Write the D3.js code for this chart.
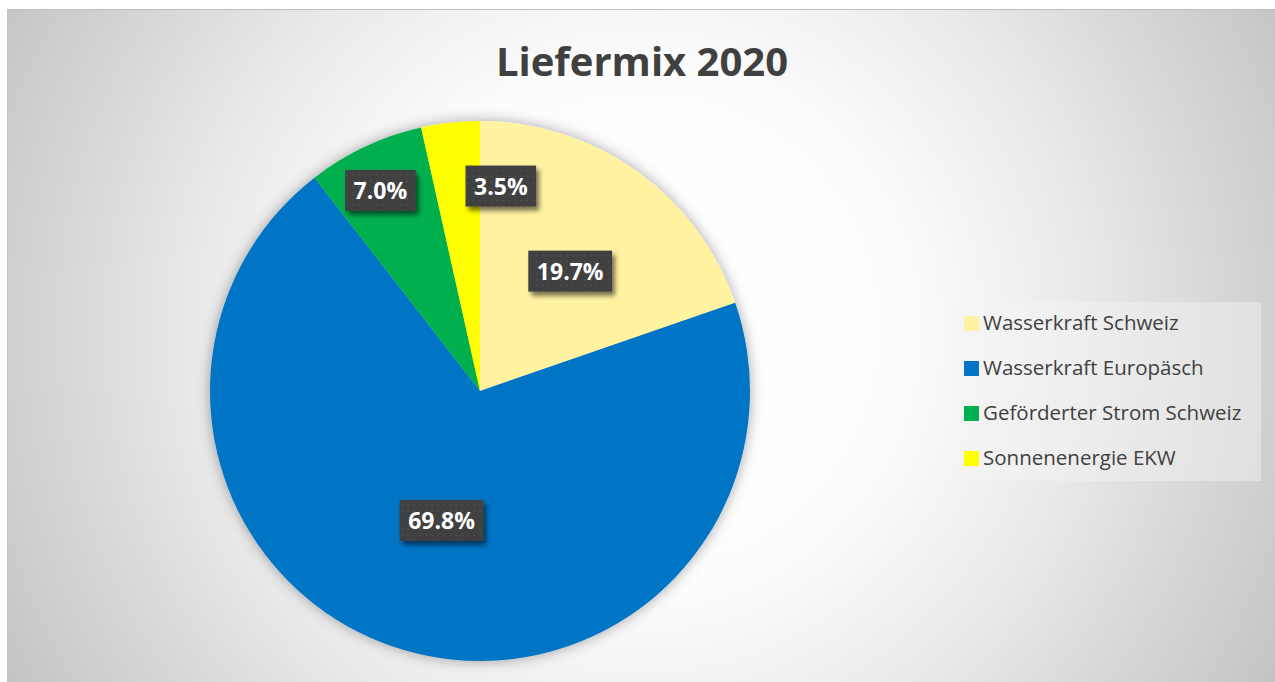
<!DOCTYPE html>
<html>
<head>
<meta charset="utf-8">
<script src="https://cdn.jsdelivr.net/npm/d3@7"></script>
<style>
  html, body { margin: 0; padding: 0; background: #ffffff; }
  svg { display: block; }
</style>
</head>
<body>
<svg id="chart" width="1275" height="682"></svg>
<script>
// ---- data ----
const title = "Liefermix 2020";
const categories = ["Wasserkraft Schweiz", "Wasserkraft Europäsch", "Geförderter Strom Schweiz", "Sonnenenergie EKW"];
const values = [19.7, 69.8, 7.0, 3.5];
const valueLabels = ["19.7%", "69.8%", "7.0%", "3.5%"];
const colors = ["#FFF2A1", "#0474C6", "#00B050", "#FFFF00"];

// ---- layout (styling, not data) ----
const W = 1275, H = 682;
const frame = { x: 7, y: 9, w: W - 7, h: H - 9 };
const cx = 480, cy = 391, R = 270;
// label placement: radius from centre, and angular nudge (degrees) like Excel's best-fit
const labelPlace = [ { r: 150, da: 1.5 }, { r: 135, da: 0 }, { r: 224, da: -1.2 }, { r: 206, da: 12.1 } ];

const svg = d3.select("#chart");
const defs = svg.append("defs");

const bg = defs.append("radialGradient").attr("id", "bg")
  .attr("gradientUnits", "userSpaceOnUse")
  .attr("cx", 641).attr("cy", 330).attr("r", 730);
[[0, "#ffffff"], [0.36, "#fcfcfc"], [0.6, "#eaeaea"], [0.8, "#d6d6d6"], [1, "#c3c3c3"]]
  .forEach(([o, c]) => bg.append("stop").attr("offset", o).attr("stop-color", c));

const pieShadow = defs.append("filter").attr("id", "pieShadow")
  .attr("x", "-20%").attr("y", "-20%").attr("width", "140%").attr("height", "140%");
pieShadow.append("feGaussianBlur").attr("in", "SourceAlpha").attr("stdDeviation", 7).attr("result", "b");
pieShadow.append("feOffset").attr("in", "b").attr("dx", 0).attr("dy", 0).attr("result", "o");
pieShadow.append("feComponentTransfer").attr("in", "o").attr("result", "s")
  .append("feFuncA").attr("type", "linear").attr("slope", 0.35);
const pm = pieShadow.append("feMerge");
pm.append("feMergeNode").attr("in", "s");
pm.append("feMergeNode").attr("in", "SourceGraphic");

const boxShadow = defs.append("filter").attr("id", "boxShadow")
  .attr("x", "-20%").attr("y", "-30%").attr("width", "150%").attr("height", "170%");
boxShadow.append("feGaussianBlur").attr("in", "SourceAlpha").attr("stdDeviation", 2.5).attr("result", "b");
boxShadow.append("feOffset").attr("in", "b").attr("dx", 3).attr("dy", 4).attr("result", "o");
boxShadow.append("feComponentTransfer").attr("in", "o").attr("result", "s")
  .append("feFuncA").attr("type", "linear").attr("slope", 0.55);
const bm = boxShadow.append("feMerge");
bm.append("feMergeNode").attr("in", "s");
bm.append("feMergeNode").attr("in", "SourceGraphic");

const dots = defs.append("pattern").attr("id", "dots")
  .attr("patternUnits", "userSpaceOnUse").attr("width", 6).attr("height", 6);
dots.append("rect").attr("width", 6).attr("height", 6).attr("fill", "#3f3f3f");
dots.append("rect").attr("x", 2).attr("y", 2).attr("width", 1.2).attr("height", 1.2).attr("fill", "#5a5a5a");

// background frame
svg.append("rect").attr("x", frame.x).attr("y", frame.y).attr("width", frame.w).attr("height", frame.h)
  .attr("fill", "url(#bg)");
svg.append("line").attr("x1", frame.x).attr("x2", W).attr("y1", frame.y + 0.5).attr("y2", frame.y + 0.5)
  .attr("stroke", "#bdbdbd").attr("stroke-width", 1);
svg.append("line").attr("x1", frame.x + 0.5).attr("x2", frame.x + 0.5).attr("y1", frame.y).attr("y2", H)
  .attr("stroke", "#c4c4c4").attr("stroke-width", 1);

// title
svg.append("text").attr("x", 642).attr("y", 76).attr("text-anchor", "middle")
  .attr("font-family", "'Open Sans', sans-serif").attr("font-weight", 700).attr("font-size", 40)
  .attr("fill", "#404040").text(title);

// pie
const pie = d3.pie().sort(null).value(d => d)(values);
const arc = d3.arc().innerRadius(0).outerRadius(R);
const g = svg.append("g").attr("transform", `translate(${cx},${cy})`);
g.append("g").attr("filter", "url(#pieShadow)")
  .selectAll("path").data(pie).join("path")
  .attr("d", arc).attr("fill", (d, i) => colors[i]);

// data labels
const lg = g.append("g");
pie.forEach((d, i) => {
  const a = (d.startAngle + d.endAngle) / 2 + labelPlace[i].da * Math.PI / 180;
  const x = Math.sin(a) * labelPlace[i].r, y = -Math.cos(a) * labelPlace[i].r;
  const grp = lg.append("g").attr("transform", `translate(${x},${y})`);
  const rect = grp.append("rect").attr("fill", "url(#dots)").attr("filter", "url(#boxShadow)");
  const t = grp.append("text").attr("text-anchor", "middle").attr("dy", "0.37em")
    .attr("font-family", "'Open Sans', sans-serif").attr("font-weight", 700).attr("font-size", 23)
    .attr("fill", "#ffffff").text(valueLabels[i]);
  const tw = t.node().getComputedTextLength();
  const bw = tw + 17, bh = 41;
  rect.attr("x", -bw / 2).attr("y", -bh / 2).attr("width", bw).attr("height", bh);
});

// legend
const legX = 952, legY = 302, legW = 309, legH = 179, rowH = 45;
svg.append("rect").attr("x", legX).attr("y", legY).attr("width", legW).attr("height", legH)
  .attr("fill", "#f4f4f4").attr("fill-opacity", 0.45);
const legend = svg.append("g").attr("transform", `translate(${legX},${legY})`);
const items = legend.selectAll("g").data(categories).join("g")
  .attr("transform", (d, i) => `translate(12, ${21 + i * rowH})`);
items.append("rect").attr("x", 0).attr("y", -7).attr("width", 15).attr("height", 15)
  .attr("fill", (d, i) => colors[i]);
items.append("text").attr("x", 19).attr("dy", "0.36em")
  .attr("font-family", "'Open Sans', sans-serif").attr("font-size", 20.5)
  .attr("fill", "#404040").text(d => d);
</script>
</body>
</html>
